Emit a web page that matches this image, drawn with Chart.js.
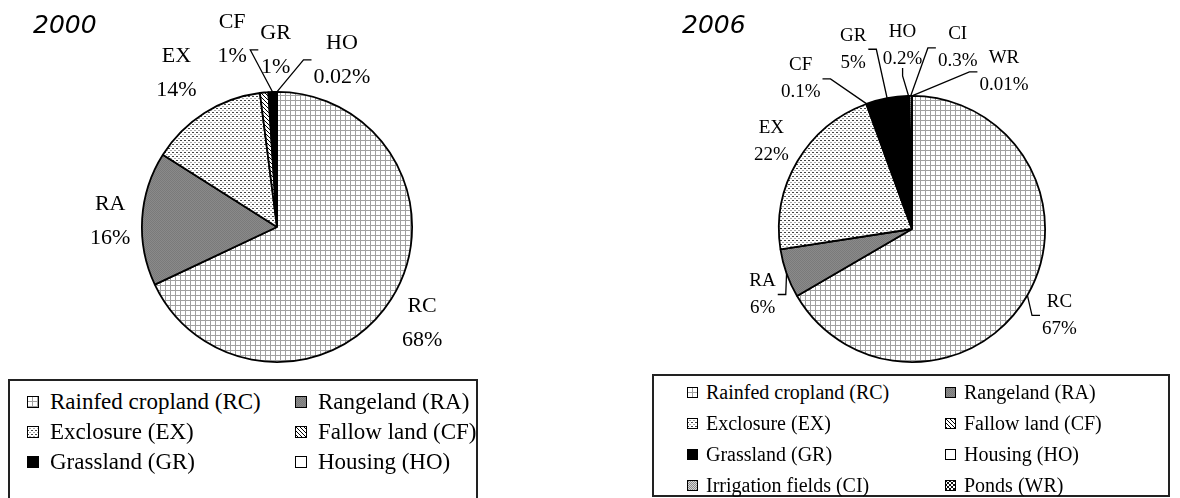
<!DOCTYPE html>
<html>
<head>
<meta charset="utf-8">
<script src="https://cdn.jsdelivr.net/npm/chart.js@4.4.1/dist/chart.umd.min.js"></script>
<style>
  body { margin: 0; background: #fff; }
  #page { position: relative; width: 1180px; height: 498px; overflow: hidden; background: #fff; }
  #page canvas.pie { position: absolute; top: 0; }
  .legend {
    position: absolute; box-sizing: border-box; border: 2px solid #222;
    color: #000;
    display: grid;
  }
  .legend .item { display: flex; align-items: center; white-space: nowrap; font-family: "Liberation Serif", "DejaVu Serif", serif; }
  .legend canvas { display: block; }
</style>
</head>
<body>
<div id="page">
  <canvas id="pie2000" class="pie" width="600" height="378" style="left:0"></canvas>
  <canvas id="pie2006" class="pie" width="580" height="372" style="left:600px"></canvas>
  <div id="legend2000" class="legend" style="left:8px;top:379px;width:470px;height:140px;padding:6px 0 0 17px;grid-template-columns:268px auto;grid-auto-rows:30px;font-size:23px;"></div>
  <div id="legend2006" class="legend" style="left:652px;top:374px;width:518px;height:123px;padding:1px 0 0 33px;grid-template-columns:258px auto;grid-auto-rows:31px;font-size:20px;"></div>
</div>
<script>
// land cover shares (%)
const codes2000 = ['RC', 'RA', 'EX', 'CF', 'GR', 'HO'];
const names2000 = ['Rainfed cropland', 'Rangeland', 'Exclosure', 'Fallow land', 'Grassland', 'Housing'];
const share2000 = [68, 16, 14, 1, 1, 0.02];

const codes2006 = ['RC', 'RA', 'EX', 'CF', 'GR', 'HO', 'CI', 'WR'];
const names2006 = ['Rainfed cropland', 'Rangeland', 'Exclosure', 'Fallow land', 'Grassland', 'Housing', 'Irrigation fields', 'Ponds'];
const share2006 = [67, 6, 22, 0.1, 5, 0.2, 0.3, 0.01];

// small bitmap tiles used as fill patterns, one per land class
function tile(w, h, draw) {
  const c = document.createElement('canvas');
  c.width = w; c.height = h;
  draw(c.getContext('2d'));
  return c;
}
const tiles = {
  RC: tile(5, 5, g => {
    g.fillStyle = '#fff'; g.fillRect(0, 0, 5, 5);
    g.fillStyle = '#a0a0a0'; g.fillRect(0, 0, 5, 1); g.fillRect(0, 0, 1, 5);
  }),
  RA: tile(2, 2, g => {
    g.fillStyle = '#8a8a8a'; g.fillRect(0, 0, 2, 2);
    g.fillStyle = '#7a7a7a'; g.fillRect(0, 0, 1, 1); g.fillRect(1, 1, 1, 1);
  }),
  EX: tile(4, 4, g => {
    g.fillStyle = '#fff'; g.fillRect(0, 0, 4, 4);
    g.fillStyle = '#444'; g.fillRect(0, 0, 2, 1);
    g.fillStyle = '#aaa'; g.fillRect(2, 2, 2, 1);
  }),
  CF: tile(4, 4, g => {
    g.fillStyle = '#fff'; g.fillRect(0, 0, 4, 4);
    g.fillStyle = '#000';
    for (let i = 0; i < 4; i++) g.fillRect(i, i, 1, 1);
  }),
  GR: tile(1, 1, g => { g.fillStyle = '#000'; g.fillRect(0, 0, 1, 1); }),
  HO: tile(1, 1, g => { g.fillStyle = '#fff'; g.fillRect(0, 0, 1, 1); }),
  CI: tile(2, 2, g => {
    g.fillStyle = '#d8d8d8'; g.fillRect(0, 0, 2, 2);
    g.fillStyle = '#8c8c8c'; g.fillRect(0, 0, 1, 1); g.fillRect(1, 1, 1, 1);
  }),
  WR: tile(4, 4, g => {
    g.fillStyle = '#fff'; g.fillRect(0, 0, 4, 4);
    g.fillStyle = '#111'; g.fillRect(0, 0, 2, 2); g.fillRect(2, 2, 2, 2);
  })
};

function fillsFor(ctx, codes) {
  return codes.map(c => ctx.createPattern(tiles[c], 'repeat'));
}

// draws "CODE / value%" next to each slice, with Excel-like leader lines
const sliceLabels = {
  id: 'sliceLabels',
  afterDatasetsDraw(chart, args, opts) {
    const ctx = chart.ctx;
    const meta = chart.getDatasetMeta(0);
    const values = chart.data.datasets[0].data;
    ctx.save();
    ctx.fillStyle = '#000';
    ctx.strokeStyle = '#000';
    ctx.lineWidth = 1.3;
    ctx.font = opts.size + 'px "Liberation Serif"';
    ctx.textAlign = 'center';
    ctx.textBaseline = 'middle';
    meta.data.forEach((arc, i) => {
      const p = arc.getProps(['x', 'y', 'startAngle', 'endAngle', 'outerRadius'], true);
      const mid = (p.startAngle + p.endAngle) / 2;
      const ax = p.x + Math.cos(mid) * p.outerRadius;
      const ay = p.y + Math.sin(mid) * p.outerRadius;
      const [dx, dy, side] = opts.place[i];
      const cx = ax + dx, cy = ay + dy;
      const top = chart.data.labels[i];
      const bottom = values[i] + '%';
      ctx.fillText(top, cx, cy - opts.gap / 2);
      ctx.fillText(bottom, cx, cy + opts.gap / 2);
      if (!side) return;
      const w = Math.max(ctx.measureText(top).width, ctx.measureText(bottom).width);
      let sx, sy, tx, ty;
      if (side === 'left') { sx = cx - w / 2 - 2; sy = cy; tx = sx - 8; ty = sy; }
      else if (side === 'right') { sx = cx + w / 2 + 2; sy = cy; tx = sx + 8; ty = sy; }
      else { sx = cx; sy = cy + opts.gap / 2 + opts.size * 0.45; tx = sx; ty = sy + 8; }
      ctx.beginPath();
      ctx.moveTo(sx, sy);
      ctx.lineTo(tx, ty);
      ctx.lineTo(ax, ay);
      ctx.stroke();
    });
    ctx.font = 'italic 25px "DejaVu Sans"';
    ctx.textAlign = 'left';
    ctx.textBaseline = 'alphabetic';
    ctx.fillText(opts.title, opts.titleX, opts.titleY);
    ctx.restore();
  }
};

function makePie(id, codes, shares, padding, labelOpts) {
  const canvas = document.getElementById(id);
  const ctx = canvas.getContext('2d');
  return new Chart(ctx, {
    type: 'pie',
    data: {
      labels: codes,
      datasets: [{
        data: shares,
        backgroundColor: fillsFor(ctx, codes),
        borderColor: '#000',
        borderWidth: 1.8
      }]
    },
    options: {
      responsive: false,
      animation: false,
      layout: { padding: padding },
      plugins: {
        legend: { display: false },
        tooltip: { enabled: false },
        sliceLabels: labelOpts
      }
    },
    plugins: [sliceLabels]
  });
}

makePie('pie2000', codes2000, share2000,
  { left: 141, top: 91, right: 187, bottom: 15 },
  {
    title: '2000', titleX: 33, titleY: 33, size: 22, gap: 34,
    place: [[31, 24, null], [-32, 3, null], [-28, -40, null], [-32, -53, null], [3, -42, 'left'], [65, -32, 'left']]
  });

makePie('pie2006', codes2006, share2006,
  { left: 178, top: 95, right: 134, bottom: 9 },
  {
    title: '2006', titleX: 82, titleY: 33, size: 19, gap: 27,
    place: [[32, 20, 'left'], [-24, 21, 'right'], [-26, -20, null], [-66, -25, 'right'],
            [-34, -49, 'right'], [-6, -50, 'bottom'], [47, -48, 'left'], [92, -24, 'left']]
  });

// legends: boxed, two columns, swatch + "Name (CODE)"
function buildLegend(id, codes, names, swatch, gap) {
  const box = document.getElementById(id);
  codes.forEach((code, i) => {
    const item = document.createElement('div');
    item.className = 'item';
    const sw = document.createElement('canvas');
    sw.width = swatch; sw.height = swatch;
    sw.style.marginRight = gap + 'px';
    const g = sw.getContext('2d');
    g.fillStyle = g.createPattern(tiles[code], 'repeat');
    g.fillRect(0, 0, swatch, swatch);
    g.strokeStyle = '#000';
    g.lineWidth = 1;
    g.strokeRect(0.5, 0.5, swatch - 1, swatch - 1);
    item.appendChild(sw);
    item.appendChild(document.createTextNode(names[i] + ' (' + code + ')'));
    box.appendChild(item);
  });
}
buildLegend('legend2000', codes2000, names2000, 12, 11);
buildLegend('legend2006', codes2006, names2006, 11, 8);
</script>
</body>
</html>
